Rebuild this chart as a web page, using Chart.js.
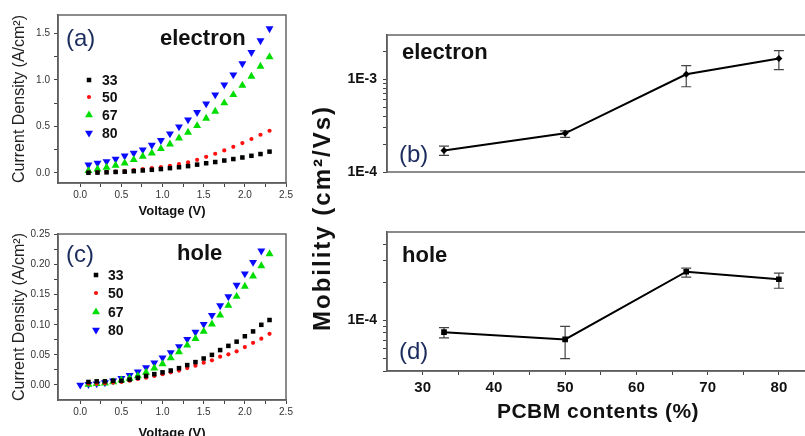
<!DOCTYPE html>
<html>
<head>
<meta charset="utf-8">
<script src="https://cdn.jsdelivr.net/npm/chart.js@4.4.1/dist/chart.umd.min.js"></script>
<style>
  html, body { margin: 0; padding: 0; background: #fff; width: 805px; height: 436px; overflow: hidden; position: relative; }
  canvas { position: absolute; }
  .axtitle {
    position: absolute; width: 300px; height: 28px; line-height: 28px;
    text-align: center; white-space: nowrap; color: #111;
    font-family: Arial, "Liberation Sans", sans-serif; font-weight: bold;
  }
  #mobTitle { left: 172px; top: 204px; font-size: 24px; letter-spacing: 2px; transform: rotate(-90deg); }
  #pcbmTitle { left: 448px; top: 397px; font-size: 21px; letter-spacing: 0.5px; }
</style>
</head>
<body>
<canvas id="cA" width="300" height="225" style="left:0;top:0"></canvas>
<canvas id="cC" width="300" height="230" style="left:0;top:216px"></canvas>
<canvas id="cB" width="530" height="200" style="left:300px;top:0"></canvas>
<canvas id="cD" width="530" height="236" style="left:300px;top:200px"></canvas>
<div id="mobTitle" class="axtitle">Mobility (cm²/Vs)</div>
<div id="pcbmTitle" class="axtitle">PCBM contents (%)</div>
<script>
// ---- (a) electron-only J-V ----
const voltA = [0.1, 0.21, 0.32, 0.43, 0.54, 0.65, 0.76, 0.87, 0.98, 1.09, 1.2, 1.31, 1.42, 1.53, 1.64, 1.75, 1.86, 1.97, 2.08, 2.19, 2.3];
const elec33 = [0.000, 0.002, 0.005, 0.009, 0.012, 0.018, 0.025, 0.032, 0.040, 0.050, 0.060, 0.072, 0.088, 0.103, 0.116, 0.132, 0.148, 0.165, 0.183, 0.202, 0.228];
const elec50 = [0.002, 0.004, 0.008, 0.014, 0.018, 0.029, 0.040, 0.050, 0.061, 0.076, 0.094, 0.112, 0.140, 0.172, 0.205, 0.241, 0.280, 0.320, 0.364, 0.410, 0.453];
const elec67 = [0.022, 0.040, 0.058, 0.079, 0.104, 0.140, 0.176, 0.212, 0.259, 0.309, 0.374, 0.435, 0.507, 0.586, 0.661, 0.752, 0.841, 0.942, 1.039, 1.147, 1.248];
const elec80 = [0.086, 0.105, 0.122, 0.148, 0.183, 0.212, 0.248, 0.299, 0.349, 0.421, 0.496, 0.572, 0.651, 0.744, 0.841, 0.949, 1.057, 1.176, 1.298, 1.424, 1.553];

// ---- (c) hole-only J-V ----
const voltC = [0.1, 0.2, 0.3, 0.4, 0.5, 0.6, 0.7, 0.8, 0.9, 1.0, 1.1, 1.2, 1.3, 1.4, 1.5, 1.6, 1.7, 1.8, 1.9, 2.0, 2.1, 2.2, 2.3];
const voltC80 = [0.0, 0.1, 0.2, 0.3, 0.4, 0.5, 0.6, 0.7, 0.8, 0.9, 1.0, 1.1, 1.2, 1.3, 1.4, 1.5, 1.6, 1.7, 1.8, 1.9, 2.0, 2.1, 2.2];
const hole33 = [0.005, 0.006, 0.006, 0.007, 0.007, 0.009, 0.012, 0.015, 0.018, 0.021, 0.024, 0.028, 0.033, 0.038, 0.044, 0.050, 0.058, 0.065, 0.072, 0.081, 0.089, 0.100, 0.108];
const hole50 = [0.002, 0.002, 0.003, 0.004, 0.005, 0.007, 0.010, 0.012, 0.015, 0.018, 0.021, 0.024, 0.028, 0.032, 0.037, 0.041, 0.047, 0.051, 0.056, 0.063, 0.070, 0.077, 0.085];
const hole67 = [0.001, 0.002, 0.003, 0.005, 0.008, 0.011, 0.015, 0.021, 0.028, 0.035, 0.045, 0.055, 0.066, 0.077, 0.089, 0.101, 0.116, 0.132, 0.147, 0.164, 0.181, 0.198, 0.218];
const hole80 = [0.000, 0.001, 0.002, 0.004, 0.007, 0.011, 0.016, 0.022, 0.029, 0.037, 0.045, 0.054, 0.064, 0.076, 0.088, 0.101, 0.116, 0.132, 0.147, 0.166, 0.185, 0.204, 0.223];

// ---- (b), (d) mobility vs PCBM content ----
const pcbm = [33, 50, 67, 80];
const muE = [1.71e-4, 2.61e-4, 1.13e-3, 1.67e-3];
const muEHi = [1.90e-4, 2.78e-4, 1.40e-3, 2.04e-3];
const muELo = [1.51e-4, 2.36e-4, 8.3e-4, 1.27e-3];
const muH = [8.1e-5, 7.1e-5, 2.43e-4, 2.12e-4];
const muHHi = [8.8e-5, 9.0e-5, 2.59e-4, 2.37e-4];
const muHLo = [7.3e-5, 5.0e-5, 2.20e-4, 1.80e-4];

// ---- tick labels ----
const voltMajor = [0.0, 0.5, 1.0, 1.5, 2.0, 2.5];
const voltMinor = [0.25, 0.75, 1.25, 1.75, 2.25];
const jMajorA = [0.0, 0.5, 1.0, 1.5];
const jMinorA = [0.25, 0.75, 1.25];
const jMajorC = [0.00, 0.05, 0.10, 0.15, 0.20, 0.25];
const jMinorC = [0.025, 0.075, 0.125, 0.175, 0.225];
const pcbmMajor = [30, 40, 50, 60, 70, 80];
const pcbmMinor = [35, 45, 55, 65, 75];
const muTicksB = [1e-4, 2e-4, 3e-4, 4e-4, 5e-4, 6e-4, 7e-4, 8e-4, 9e-4, 1e-3, 2e-3];
const muTicksD = [4e-5, 5e-5, 6e-5, 7e-5, 8e-5, 9e-5, 1e-4, 2e-4, 3e-4, 4e-4];
const muLabels = { '0.001': '1E-3', '0.0001': '1E-4' };
const seriesNames = ['33', '50', '67', '80'];

const FONT = "Arial, 'Liberation Sans', sans-serif";
const NAVY = '#1b2b5e';
Chart.defaults.font.family = FONT;

const pts = (xs, ys) => xs.map((x, i) => ({ x: x, y: ys[i] }));
const fixedTicks = list => scale => { scale.ticks = list.map(v => ({ value: v })); };
const labelIf = (majors, digits) => v => majors.some(m => Math.abs(m - v) < 1e-9) ? v.toFixed(digits) : '';

function drawMarker(ctx, style, r, rot, x, y) {
  ctx.beginPath();
  if (style === 'rect') {
    const s = r * Math.SQRT1_2;
    ctx.rect(x - s, y - s, 2 * s, 2 * s);
  } else if (style === 'circle') {
    ctx.arc(x, y, r, 0, Math.PI * 2);
  } else if (style === 'triangle') {
    let a = rot * Math.PI / 180;
    for (let k = 0; k < 3; k++) {
      const px = x + Math.sin(a) * r, py = y - Math.cos(a) * r;
      k ? ctx.lineTo(px, py) : ctx.moveTo(px, py);
      a += Math.PI * 2 / 3;
    }
    ctx.closePath();
  }
  ctx.fill();
}

// texts and legend inside the panels
const notesPlugin = {
  id: 'notes',
  afterDraw(chart, args, opts) {
    const ctx = chart.ctx;
    ctx.save();
    ctx.textBaseline = 'middle';
    ctx.textAlign = 'left';
    (opts.items || []).forEach(t => {
      ctx.font = t.font;
      ctx.fillStyle = t.color;
      ctx.fillText(t.text, t.x, t.y);
    });
    if (opts.legend) {
      const lg = opts.legend;
      chart.data.datasets.forEach((ds, i) => {
        ctx.fillStyle = ds.backgroundColor;
        drawMarker(ctx, ds.pointStyle, ds.pointRadius, ds.pointRotation || 0, lg.markerX, lg.ys[i]);
        ctx.font = 'bold 14px ' + FONT;
        ctx.fillStyle = '#111';
        ctx.fillText(ds.label, lg.textX, lg.ys[i] + 1);
      });
    }
    ctx.restore();
  }
};

const framePlugin = {
  id: 'frame',
  afterDraw(chart) {
    const a = chart.chartArea, ctx = chart.ctx;
    ctx.save();
    ctx.strokeStyle = '#666';
    ctx.lineWidth = 1.5;
    ctx.strokeRect(a.left, a.top, a.right - a.left, a.bottom - a.top);
    ctx.restore();
  }
};

const errPlugin = {
  id: 'errbars',
  beforeDatasetsDraw(chart, args, opts) {
    if (!opts.lo) return;
    const ctx = chart.ctx, xs = chart.scales.x, ys = chart.scales.y;
    ctx.save();
    ctx.strokeStyle = '#444';
    ctx.lineWidth = 1.2;
    pcbm.forEach((v, i) => {
      const x = xs.getPixelForValue(v);
      const y1 = ys.getPixelForValue(opts.lo[i]);
      const y2 = ys.getPixelForValue(opts.hi[i]);
      ctx.beginPath();
      ctx.moveTo(x, y1); ctx.lineTo(x, y2);
      ctx.moveTo(x - 5, y1); ctx.lineTo(x + 5, y1);
      ctx.moveTo(x - 5, y2); ctx.lineTo(x + 5, y2);
      ctx.stroke();
    });
    ctx.restore();
  }
};

function jvDatasets(xs33, y33, xs50, y50, xs67, y67, xs80, y80) {
  return [
    { label: seriesNames[0], data: pts(xs33, y33), pointStyle: 'rect', pointRadius: 3.2, backgroundColor: '#000', borderWidth: 0 },
    { label: seriesNames[1], data: pts(xs50, y50), pointStyle: 'circle', pointRadius: 2.1, backgroundColor: '#ff1010', borderWidth: 0 },
    { label: seriesNames[2], data: pts(xs67, y67), pointStyle: 'triangle', pointRadius: 4.6, backgroundColor: '#00dd00', borderWidth: 0 },
    { label: seriesNames[3], data: pts(xs80, y80), pointStyle: 'triangle', pointRotation: 180, pointRadius: 4.6, backgroundColor: '#0a0aff', borderWidth: 0 }
  ];
}

function jvOptions(yMin, yMax, yTicks, yMajors, yDigits, padTop, xHeight, xTitlePad, notes) {
  return {
    responsive: false,
    animation: false,
    layout: { padding: { top: padTop, right: 14, left: 0, bottom: 0 }, autoPadding: false },
    plugins: { legend: { display: false }, tooltip: { enabled: false }, notes: notes },
    scales: {
      x: {
        type: 'linear', min: -0.27, max: 2.5,
        afterBuildTicks: fixedTicks(voltMajor.concat(voltMinor).sort((a, b) => a - b)),
        afterFit: s => { s.height = xHeight; },
        ticks: { callback: labelIf(voltMajor, 1), autoSkip: false, maxRotation: 0, padding: 2, color: '#333', font: { size: 10 } },
        grid: { drawOnChartArea: false, tickLength: 4, color: '#444' },
        border: { color: '#444', width: 1.5 },
        title: { display: true, text: 'Voltage (V)', color: '#111', font: { size: 13, weight: 'bold' }, padding: { top: 0, bottom: xTitlePad } }
      },
      y: {
        type: 'linear', min: yMin, max: yMax,
        afterBuildTicks: fixedTicks(yTicks),
        afterFit: s => { s.width = 58; },
        ticks: { callback: labelIf(yMajors, yDigits), autoSkip: false, padding: 4, color: '#333', font: { size: 10 } },
        grid: { drawOnChartArea: false, tickLength: 4, color: '#444' },
        border: { color: '#444', width: 1.5 },
        title: { display: true, text: 'Current Density (A/cm²)', color: '#222', font: { size: 16 }, padding: { top: 10, bottom: 0 } }
      }
    }
  };
}

new Chart(document.getElementById('cA'), {
  type: 'scatter',
  data: { datasets: jvDatasets(voltA, elec33, voltA, elec50, voltA, elec67, voltA, elec80) },
  options: jvOptions(-0.11, 1.7, jMajorA.concat(jMinorA).sort((a, b) => a - b), jMajorA, 1, 15, 42, 6, {
    items: [
      { text: '(a)', x: 66, y: 39, font: '24px ' + FONT, color: NAVY },
      { text: 'electron', x: 160, y: 39, font: 'bold 22px ' + FONT, color: '#111' }
    ],
    legend: { markerX: 89, textX: 102, ys: [80, 97, 115, 133] }
  }),
  plugins: [framePlugin, notesPlugin]
});

new Chart(document.getElementById('cC'), {
  type: 'scatter',
  data: { datasets: jvDatasets(voltC, hole33, voltC, hole50, voltC, hole67, voltC80, hole80) },
  options: jvOptions(-0.025, 0.251, jMajorC.concat(jMinorC).sort((a, b) => a - b), jMajorC, 2, 18, 46, 5, {
    items: [
      { text: '(c)', x: 66, y: 39, font: '24px ' + FONT, color: NAVY },
      { text: 'hole', x: 177, y: 38, font: 'bold 22px ' + FONT, color: '#111' }
    ],
    legend: { markerX: 96, textX: 108, ys: [59, 77, 96, 114] }
  }),
  plugins: [framePlugin, notesPlugin]
});

function muOptions(yMin, yMax, yTicks, padTop, padBottom, showX, notes, lo, hi) {
  return {
    responsive: false,
    animation: false,
    layout: { padding: { top: padTop, right: 15.5, left: 0, bottom: padBottom }, autoPadding: false },
    plugins: { legend: { display: false }, tooltip: { enabled: false }, notes: notes, errbars: { lo: lo, hi: hi } },
    scales: {
      x: {
        type: 'linear', min: 25, max: 85, display: showX,
        afterBuildTicks: fixedTicks(pcbmMajor.concat(pcbmMinor).sort((a, b) => a - b)),
        afterFit: s => { s.height = showX ? 65 : 0; },
        ticks: { callback: labelIf(pcbmMajor, 0), autoSkip: false, maxRotation: 0, padding: 4, color: '#111', font: { size: 15, weight: 'bold' } },
        grid: { drawOnChartArea: false, tickLength: 4, color: '#444' },
        border: { color: '#444', width: 1.5 }
      },
      y: {
        type: 'logarithmic', min: yMin, max: yMax,
        afterBuildTicks: fixedTicks(yTicks),
        afterFit: s => { s.width = 87; },
        ticks: { callback: v => muLabels[String(v)] || '', autoSkip: false, padding: 6, color: '#111', font: { size: 14, weight: 'bold' } },
        grid: { drawOnChartArea: false, tickLength: 4, color: '#444' },
        border: { color: '#444', width: 1.5 }
      }
    }
  };
}

new Chart(document.getElementById('cB'), {
  type: 'scatter',
  data: { datasets: [{ data: pts(pcbm, muE), showLine: true, borderColor: '#000', borderWidth: 2, pointStyle: 'rectRot', pointRadius: 3.5, backgroundColor: '#000', pointBorderWidth: 0 }] },
  options: muOptions(1e-4, 3e-3, muTicksB, 35, 28, false, {
    items: [
      { text: 'electron', x: 102, y: 53, font: 'bold 22px ' + FONT, color: '#111' },
      { text: '(b)', x: 99, y: 155, font: '24px ' + FONT, color: NAVY }
    ]
  }, muELo, muEHi),
  plugins: [errPlugin, framePlugin, notesPlugin]
});

new Chart(document.getElementById('cD'), {
  type: 'scatter',
  data: { datasets: [{ data: pts(pcbm, muH), showLine: true, borderColor: '#000', borderWidth: 2, pointStyle: 'rect', pointRadius: 4, backgroundColor: '#000', pointBorderWidth: 0 }] },
  options: muOptions(4e-5, 5e-4, muTicksD, 32, 0, true, {
    items: [
      { text: 'hole', x: 102, y: 56, font: 'bold 22px ' + FONT, color: '#111' },
      { text: '(d)', x: 99, y: 152, font: '24px ' + FONT, color: NAVY }
    ]
  }, muHLo, muHHi),
  plugins: [errPlugin, framePlugin, notesPlugin]
});
</script>
</body>
</html>
